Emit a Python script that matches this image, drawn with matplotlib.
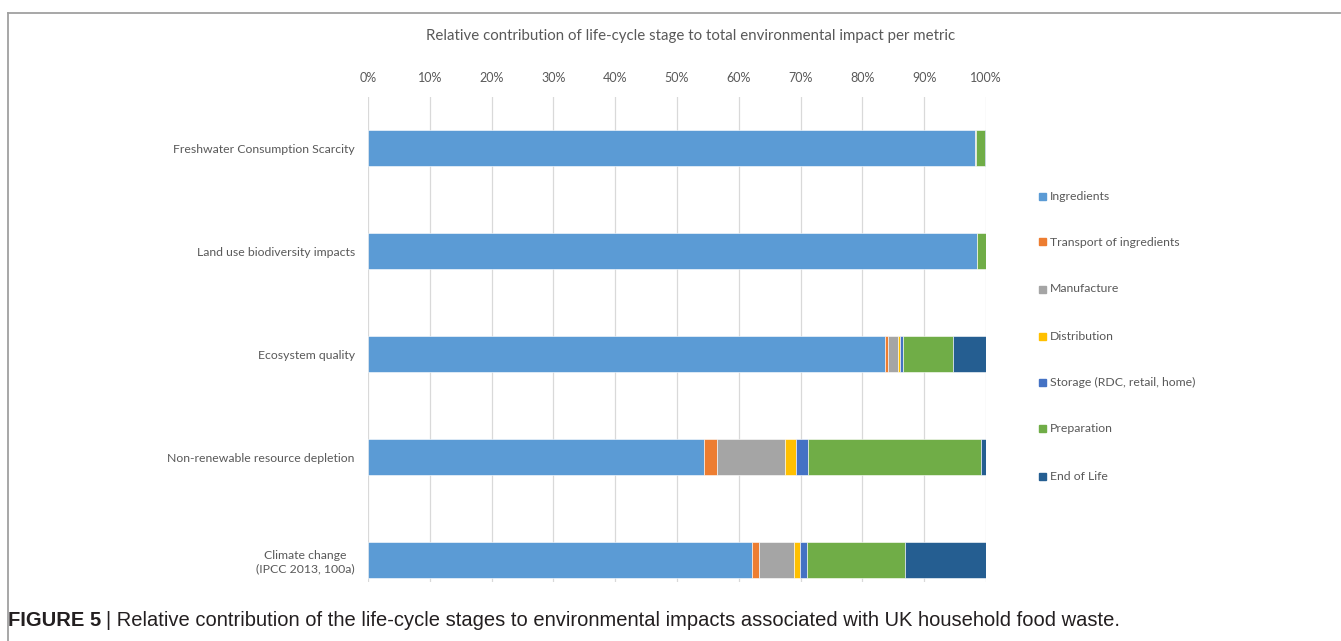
import matplotlib
matplotlib.use("Agg")
import matplotlib.pyplot as plt
from matplotlib.lines import Line2D
from matplotlib.patches import Rectangle

categories = [
    "Freshwater Consumption Scarcity",
    "Land use biodiversity impacts",
    "Ecosystem quality",
    "Non-renewable resource depletion",
    "Climate change\n(IPCC 2013, 100a)",
]
stages = [
    "Ingredients",
    "Transport of ingredients",
    "Manufacture",
    "Distribution",
    "Storage (RDC, retail, home)",
    "Preparation",
    "End of Life",
]
# share (%) of each life-cycle stage, per metric (same order as categories)
ingredients  = [98.2, 98.5, 83.7, 54.3, 62.1]
transport    = [0.0, 0.1, 0.5, 2.2, 1.2]
manufacture  = [0.2, 0.0, 1.5, 11.0, 5.6]
distribution = [0.0, 0.0, 0.4, 1.8, 1.0]
storage      = [0.0, 0.0, 0.5, 1.9, 1.1]
preparation  = [1.5, 1.4, 8.0, 28.0, 15.9]
end_of_life  = [0.1, 0.0, 5.4, 0.8, 13.1]
tick_labels = ["0%", "10%", "20%", "30%", "40%", "50%", "60%", "70%", "80%", "90%", "100%"]

series = [ingredients, transport, manufacture, distribution, storage, preparation, end_of_life]
colors = ["#5B9BD5", "#ED7D31", "#A5A5A5", "#FFC000", "#4472C4", "#70AD47", "#255E91"]

W, H = 1341, 641
fig = plt.figure(figsize=(W / 100, H / 100), dpi=100)
plt.rcParams["font.family"] = ["Lato", "DejaVu Sans"]
txt = "#595959"

# frame around the chart
fig.add_artist(Line2D([8 / W, 8 / W], [0, 1 - 12.5 / H], color="#a0a0a0", lw=1.3, transform=fig.transFigure))
fig.add_artist(Line2D([8 / W, 1340 / W], [1 - 12.5 / H, 1 - 12.5 / H], color="#a0a0a0", lw=1.3, transform=fig.transFigure))

left, right, top, bottom = 368, 986, 97, 582
ax = fig.add_axes([left / W, 1 - bottom / H, (right - left) / W, (bottom - top) / H])

ypos = list(range(len(categories)))
lefts = [0.0] * len(categories)
for vals, col, name in zip(series, colors, stages):
    ax.barh(ypos, vals, left=lefts, height=0.355, color=col, label=name,
            edgecolor="white", linewidth=0.4, zorder=3)
    lefts = [a + b for a, b in zip(lefts, vals)]

ax.set_xlim(0, 100)
ax.set_ylim((582 - 148) / 103, (97 - 148) / 103)
ax.set_xticks(range(0, 101, 10))
ax.set_xticklabels(tick_labels)
ax.xaxis.tick_top()
ax.tick_params(axis="x", length=0, pad=9.5, labelsize=9, colors=txt)
ax.set_yticks(ypos)
ax.set_yticklabels(categories, fontsize=8.8, color=txt)
ax.tick_params(axis="y", length=0, pad=9.5)
for lab in ax.get_yticklabels():
    lab.set_horizontalalignment("right")
    lab.set_multialignment("center")
ax.grid(axis="x", color="#d9d9d9", lw=0.9, zorder=0)
for s in ax.spines.values():
    s.set_visible(False)

fig.text(691 / W, 1 - 36 / H, "Relative contribution of life-cycle stage to total environmental impact per metric",
         ha="center", va="center", fontsize=10.8, color=txt)

# legend
leg_y = [196, 242, 289, 336, 382, 428, 476]
for name, col, y in zip(stages, colors, leg_y):
    fig.add_artist(Rectangle((1039 / W, 1 - (y + 3.5) / H), 7 / W, 7 / H, color=col, transform=fig.transFigure))
    fig.text(1050 / W, 1 - y / H, name, ha="left", va="center", fontsize=8.8, color=txt)

# caption
cap = fig.text(8 / W, 1 - 621 / H, "FIGURE 5", ha="left", va="center", fontsize=14.5,
               fontweight="bold", family="Liberation Sans", color="#231f20")
fig.canvas.draw()
bb = cap.get_window_extent()
fig.text(bb.x1 / W + 5 / W, 1 - 621 / H,
         "| Relative contribution of the life-cycle stages to environmental impacts associated with UK household food waste.",
         ha="left", va="center", fontsize=14.5, family="Liberation Sans", color="#231f20")

fig.savefig("out.png", dpi=100)
